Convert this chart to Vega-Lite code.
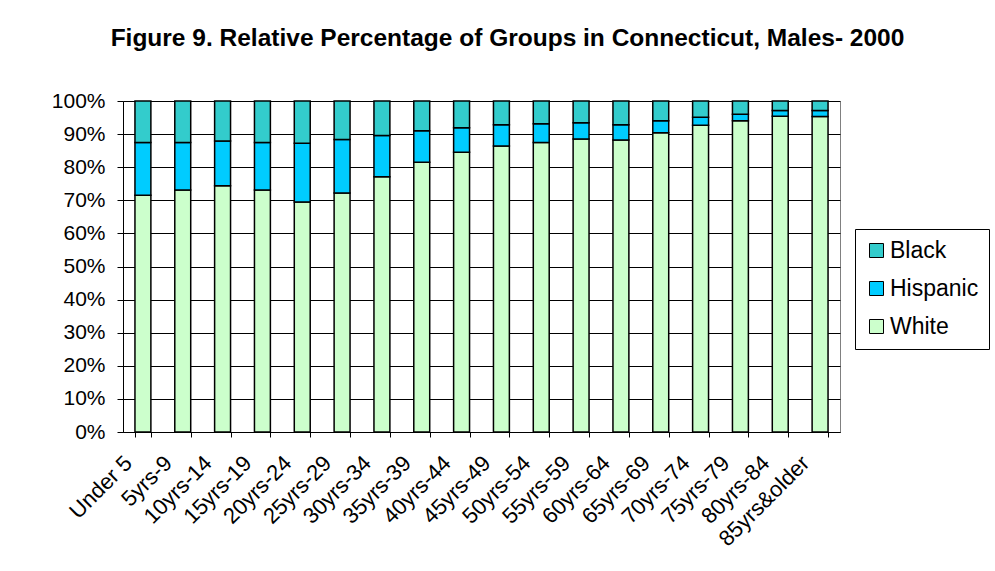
{
  "$schema": "https://vega.github.io/schema/vega-lite/v6.json",
  "autosize": "none",
  "width": 717,
  "height": 331,
  "padding": {"left": 123, "top": 101, "right": 155, "bottom": 139},
  "background": "white",
  "config": {
    "font": "Liberation Sans",
    "view": {"stroke": "#808080", "strokeWidth": 1}
  },
  "title": {
    "text": "Figure 9. Relative Percentage of Groups in Connecticut, Males- 2000",
    "font": "Liberation Sans",
    "fontSize": 24.5,
    "fontWeight": "bold",
    "color": "black",
    "anchor": "middle",
    "offset": 39,
    "dx": 26
  },
  "data": {
    "values": [
      {"age": "Under 5", "group": "White", "pct": 71.5},
      {"age": "Under 5", "group": "Hispanic", "pct": 16.0},
      {"age": "Under 5", "group": "Black", "pct": 12.5},
      {"age": "5yrs-9", "group": "White", "pct": 73.1},
      {"age": "5yrs-9", "group": "Hispanic", "pct": 14.4},
      {"age": "5yrs-9", "group": "Black", "pct": 12.5},
      {"age": "10yrs-14", "group": "White", "pct": 74.4},
      {"age": "10yrs-14", "group": "Hispanic", "pct": 13.5},
      {"age": "10yrs-14", "group": "Black", "pct": 12.1},
      {"age": "15yrs-19", "group": "White", "pct": 73.1},
      {"age": "15yrs-19", "group": "Hispanic", "pct": 14.4},
      {"age": "15yrs-19", "group": "Black", "pct": 12.5},
      {"age": "20yrs-24", "group": "White", "pct": 69.5},
      {"age": "20yrs-24", "group": "Hispanic", "pct": 17.7},
      {"age": "20yrs-24", "group": "Black", "pct": 12.8},
      {"age": "25yrs-29", "group": "White", "pct": 72.2},
      {"age": "25yrs-29", "group": "Hispanic", "pct": 16.2},
      {"age": "25yrs-29", "group": "Black", "pct": 11.6},
      {"age": "30yrs-34", "group": "White", "pct": 77.1},
      {"age": "30yrs-34", "group": "Hispanic", "pct": 12.5},
      {"age": "30yrs-34", "group": "Black", "pct": 10.4},
      {"age": "35yrs-39", "group": "White", "pct": 81.5},
      {"age": "35yrs-39", "group": "Hispanic", "pct": 9.5},
      {"age": "35yrs-39", "group": "Black", "pct": 9.0},
      {"age": "40yrs-44", "group": "White", "pct": 84.5},
      {"age": "40yrs-44", "group": "Hispanic", "pct": 7.4},
      {"age": "40yrs-44", "group": "Black", "pct": 8.1},
      {"age": "45yrs-49", "group": "White", "pct": 86.4},
      {"age": "45yrs-49", "group": "Hispanic", "pct": 6.4},
      {"age": "45yrs-49", "group": "Black", "pct": 7.2},
      {"age": "50yrs-54", "group": "White", "pct": 87.5},
      {"age": "50yrs-54", "group": "Hispanic", "pct": 5.6},
      {"age": "50yrs-54", "group": "Black", "pct": 6.9},
      {"age": "55yrs-59", "group": "White", "pct": 88.5},
      {"age": "55yrs-59", "group": "Hispanic", "pct": 4.9},
      {"age": "55yrs-59", "group": "Black", "pct": 6.6},
      {"age": "60yrs-64", "group": "White", "pct": 88.2},
      {"age": "60yrs-64", "group": "Hispanic", "pct": 4.6},
      {"age": "60yrs-64", "group": "Black", "pct": 7.2},
      {"age": "65yrs-69", "group": "White", "pct": 90.4},
      {"age": "65yrs-69", "group": "Hispanic", "pct": 3.6},
      {"age": "65yrs-69", "group": "Black", "pct": 6.0},
      {"age": "70yrs-74", "group": "White", "pct": 92.7},
      {"age": "70yrs-74", "group": "Hispanic", "pct": 2.4},
      {"age": "70yrs-74", "group": "Black", "pct": 4.9},
      {"age": "75yrs-79", "group": "White", "pct": 94.0},
      {"age": "75yrs-79", "group": "Hispanic", "pct": 2.0},
      {"age": "75yrs-79", "group": "Black", "pct": 4.0},
      {"age": "80yrs-84", "group": "White", "pct": 95.4},
      {"age": "80yrs-84", "group": "Hispanic", "pct": 1.7},
      {"age": "80yrs-84", "group": "Black", "pct": 2.9},
      {"age": "85yrs&older", "group": "White", "pct": 95.3},
      {"age": "85yrs&older", "group": "Hispanic", "pct": 1.8},
      {"age": "85yrs&older", "group": "Black", "pct": 2.9}
    ]
  },
  "mark": {"type": "bar", "stroke": "black", "strokeWidth": 1.5},
  "encoding": {
    "x": {
      "field": "age",
      "type": "nominal",
      "sort": null,
      "scale": {"paddingInner": 0.6, "paddingOuter": 0.3},
      "axis": {
        "title": null,
        "labelAngle": -45,
        "labelAlign": "right",
        "labelBaseline": "line-bottom",
        "labelLineHeight": 40,
        "labelFontSize": 22,
        "labelColor": "black",
        "labelPadding": 37,
        "tickBand": "extent",
        "tickSize": 5,
        "tickColor": "black",
        "domainColor": "black",
        "labelOverlap": false
      }
    },
    "y": {
      "field": "pct",
      "type": "quantitative",
      "stack": "zero",
      "scale": {"domain": [0, 100], "nice": false},
      "axis": {
        "title": null,
        "values": [0, 10, 20, 30, 40, 50, 60, 70, 80, 90, 100],
        "labelExpr": "datum.value + '%'",
        "labelFontSize": 21,
        "labelColor": "black",
        "labelPadding": 12,
        "tickSize": 6,
        "tickColor": "black",
        "domainColor": "black",
        "grid": true,
        "gridColor": "black",
        "gridOpacity": 1
      }
    },
    "color": {
      "field": "group",
      "type": "nominal",
      "scale": {
        "domain": ["Black", "Hispanic", "White"],
        "range": ["#33CCCC", "#00CCFF", "#CCFFCC"]
      },
      "legend": {
        "title": null,
        "orient": "none",
        "legendX": 732,
        "legendY": 128,
        "symbolType": "square",
        "symbolSize": 196,
        "symbolStrokeColor": "black",
        "symbolStrokeWidth": 1,
        "symbolOpacity": 1,
        "labelFontSize": 23,
        "labelColor": "black",
        "labelOffset": 2,
        "rowPadding": 14,
        "padding": 10,
        "strokeColor": "black",
        "fillColor": "white"
      }
    },
    "order": {"field": "group", "sort": "descending"}
  }
}
